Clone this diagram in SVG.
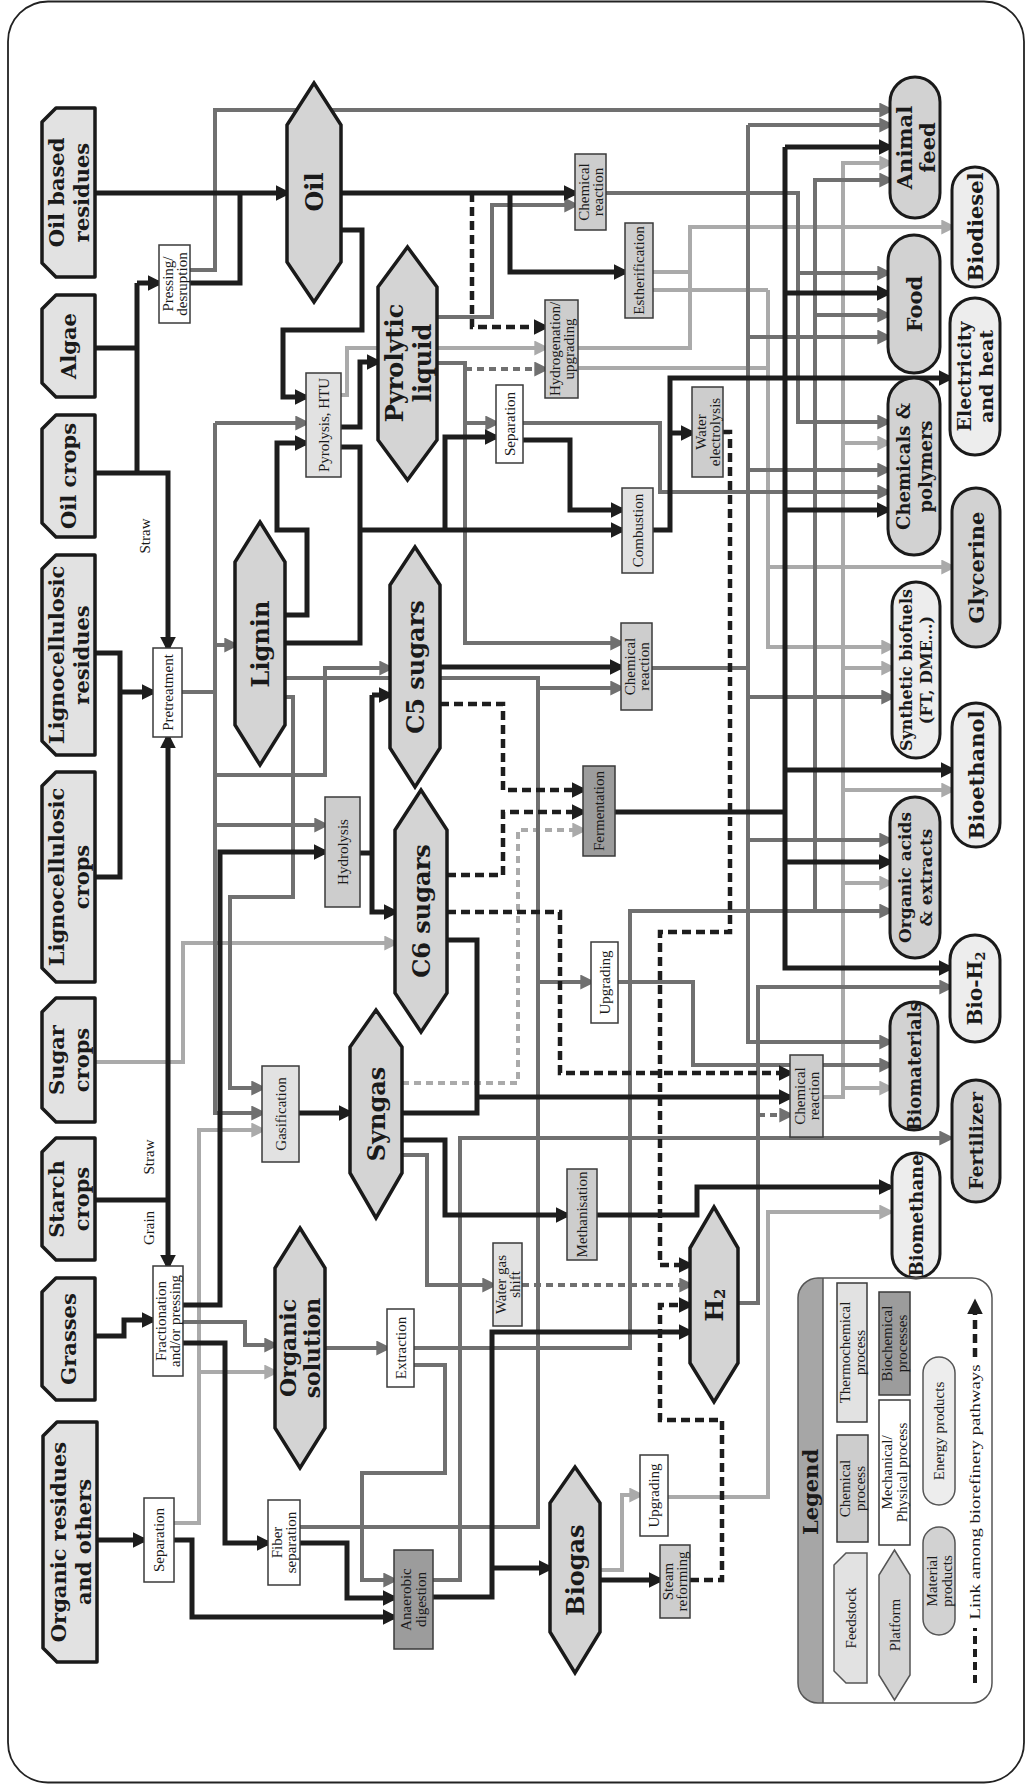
<svg xmlns="http://www.w3.org/2000/svg" width="1027" height="1789" viewBox="0 0 1027 1789">
<defs>
<style>
.k{fill:none;stroke:#1d1d1d;stroke-width:5}
.d{fill:none;stroke:#707070;stroke-width:4}
.l{fill:none;stroke:#aaaaaa;stroke-width:4}
.kd{fill:none;stroke:#1d1d1d;stroke-width:4.5;stroke-dasharray:9 5}
.dd{fill:none;stroke:#707070;stroke-width:4;stroke-dasharray:7 5}
.ld{fill:none;stroke:#aaaaaa;stroke-width:4;stroke-dasharray:7 5}
.ak{marker-end:url(#ak)}
.ad{marker-end:url(#ad)}
.al{marker-end:url(#al)}
.fs{fill:#e2e2e2;stroke:#1a1a1a;stroke-width:3.5;stroke-linejoin:round}
.pf{fill:#d4d4d4;stroke:#1a1a1a;stroke-width:3.5;stroke-linejoin:miter}
.pm{fill:#d2d2d2;stroke:#1a1a1a;stroke-width:3}
.pe{fill:#ededed;stroke:#1a1a1a;stroke-width:3}
.bw{fill:#ffffff;stroke:#3a3a3a;stroke-width:1.5}
.bc{fill:#cdcdcd;stroke:#3a3a3a;stroke-width:1.5}
.bt{fill:#e2e2e2;stroke:#3a3a3a;stroke-width:1.5}
.bb{fill:#9c9c9c;stroke:#3a3a3a;stroke-width:1.5}
.nl{font-family:"DejaVu Serif",serif;font-weight:bold;fill:#1a1a1a;text-anchor:middle;dominant-baseline:central}
.tl{font-family:"Liberation Serif","Times New Roman",serif;fill:#1a1a1a;text-anchor:middle;dominant-baseline:central;font-size:15px}
</style>
<marker id="ak" viewBox="0 0 14 14" markerWidth="16" markerHeight="16" refX="10" refY="7" orient="auto" markerUnits="userSpaceOnUse"><path d="M0,0 L14,7 L0,14 z" fill="#1d1d1d"/></marker>
<marker id="ad" viewBox="0 0 14 14" markerWidth="15" markerHeight="15" refX="10" refY="7" orient="auto" markerUnits="userSpaceOnUse"><path d="M0,0 L14,7 L0,14 z" fill="#707070"/></marker>
<marker id="al" viewBox="0 0 14 14" markerWidth="15" markerHeight="15" refX="10" refY="7" orient="auto" markerUnits="userSpaceOnUse"><path d="M0,0 L14,7 L0,14 z" fill="#aaaaaa"/></marker>
</defs>
<rect x="0" y="0" width="1027" height="1789" fill="#ffffff"/>
<rect x="8" y="1.5" width="1016" height="1781" rx="40" fill="none" stroke="#222" stroke-width="1.8"/>

<g id="connectors">
<polyline class="l al" points="341,395 347,395 347,348 545,348"/>
<polyline class="l" points="578,348 690,348"/>
<polyline class="l" points="653,272 690,272"/>
<polyline class="l al" points="690,350 690,227 952,227"/>
<polyline class="l" points="653,290 768,290"/>
<polyline class="l" points="578,368 768,368"/>
<polyline class="l al" points="768,290 768,647 892,647"/>
<polyline class="l al" points="768,567 952,567"/>
<polyline class="l al" points="823,1097 843,1097 843,163 890,163"/>
<polyline class="l al" points="843,443 888,443"/>
<polyline class="l al" points="843,668 892,668"/>
<polyline class="l al" points="843,790 952,790"/>
<polyline class="l al" points="843,883 890,883"/>
<polyline class="l al" points="843,1088 890,1088"/>
<polyline class="l al" points="95,1062 183,1062 183,943 395,943"/>
<polyline class="l al" points="174,1523 199,1523 199,1130 262,1130"/>
<polyline class="l al" points="199,1372 275,1372"/>
<polyline class="l al" points="600,1570 622,1570 622,1495 640,1495"/>
<polyline class="l al" points="668,1497 768,1497 768,1212 890,1212"/>
<polyline class="ld al" points="402,1083 518,1083 518,830 583,830"/>

<polyline class="d ad" points="190,270 215,270 215,110 890,110"/>
<polyline class="d ad" points="437,317 492,317 492,205 575,205"/>
<polyline class="d ad" points="437,363 465,363 465,643 621,643"/>
<polyline class="d ad" points="465,423 496,423"/>
<polyline class="dd ad" points="465,369 545,369"/>
<polyline class="d ad" points="523,423 660,423 660,492 888,492"/>
<polyline class="d ad" points="606,193 798,193 798,422 888,422"/>
<polyline class="d ad" points="798,273 888,273"/>
<polyline class="d" points="652,668 748,668"/>
<polyline class="d ad" points="748,125 748,1042 890,1042"/>
<polyline class="d ad" points="748,125 890,125"/>
<polyline class="d ad" points="748,337 888,337"/>
<polyline class="d ad" points="748,470 888,470"/>
<polyline class="d ad" points="748,697 892,697"/>
<polyline class="d ad" points="748,840 890,840"/>
<polyline class="d ad" points="414,1348 630,1348 630,911 890,911"/>
<polyline class="d ad" points="815,911 815,180 890,180"/>
<polyline class="d ad" points="815,315 888,315"/>
<polyline class="d" points="182,692 215,692"/>
<polyline class="d ad" points="215,423 215,1113 262,1113"/>
<polyline class="d ad" points="215,423 306,423"/>
<polyline class="d ad" points="215,645 235,645"/>
<polyline class="d ad" points="215,825 325,825"/>
<polyline class="d ad" points="215,775 325,775 325,668 390,668"/>
<polyline class="d" points="285,678 538,678 538,1527 300,1527"/>
<polyline class="d ad" points="538,688 621,688"/>
<polyline class="d ad" points="538,982 591,982"/>
<polyline class="d ad" points="285,697 293,697 293,897 230,897 230,1088 262,1088"/>
<polyline class="d ad" points="618,982 693,982 693,1065 890,1065"/>
<polyline class="d ad" points="738,1303 758,1303 758,987 950,987"/>
<polyline class="dd ad" points="758,1115 790,1115"/>
<polyline class="d ad" points="433,1580 460,1580 460,1138 950,1138"/>
<polyline class="d ad" points="402,1155 427,1155 427,1285 493,1285"/>
<polyline class="dd ad" points="522,1285 690,1285"/>
<polyline class="d ad" points="183,1322 245,1322 245,1345 275,1345"/>
<polyline class="d ad" points="325,1348 387,1348"/>
<polyline class="d ad" points="414,1365 445,1365 445,1473 362,1473 362,1580 394,1580"/>

<polyline class="k ak" points="95,193 287,193"/>
<polyline class="k" points="95,348 137,348"/>
<polyline class="k" points="137,283 137,473"/>
<polyline class="k ak" points="137,283 159,283"/>
<polyline class="k ak" points="95,473 168,473 168,648"/>
<polyline class="k" points="190,283 240,283 240,193"/>
<polyline class="k ak" points="341,193 575,193"/>
<polyline class="k ak" points="341,230 362,230 362,330 283,330 283,397 306,397"/>
<polyline class="k ak" points="510,193 510,272 625,272"/>
<polyline class="kd ak" points="472,193 472,327 545,327"/>
<polyline class="k ak" points="285,615 307,615 307,530 277,530 277,443 306,443"/>
<polyline class="k ak" points="341,427 360,427 360,362 378,362"/>
<polyline class="k" points="341,447 360,447 360,643 285,643"/>
<polyline class="k ak" points="360,530 622,530"/>
<polyline class="k ak" points="445,530 445,437 496,437"/>
<polyline class="k ak" points="523,440 570,440 570,510 622,510"/>
<polyline class="k ak" points="653,530 670,530 670,378 950,378"/>
<polyline class="k ak" points="670,433 692,433"/>
<polyline class="kd ak" points="723,432 730,432 730,932 660,932 660,1265 690,1265"/>
<polyline class="kd ak" points="690,1580 722,1580 722,1420 660,1420 660,1305 690,1305"/>
<polyline class="k ak" points="440,667 621,667"/>
<polyline class="kd ak" points="440,704 503,704 503,790 583,790"/>
<polyline class="kd ak" points="447,875 503,875 503,812 583,812"/>
<polyline class="kd ak" points="447,912 560,912 560,1073 790,1073"/>
<polyline class="k" points="360,853 372,853"/>
<polyline class="k ak" points="372,695 390,695"/>
<polyline class="k ak" points="372,695 372,912 395,912"/>
<polyline class="k" points="615,812 785,812"/>
<polyline class="k ak" points="785,147 785,968 950,968"/>
<polyline class="k ak" points="785,147 890,147"/>
<polyline class="k ak" points="785,293 888,293"/>
<polyline class="k ak" points="785,510 888,510"/>
<polyline class="k ak" points="785,770 952,770"/>
<polyline class="k ak" points="785,862 890,862"/>
<polyline class="k" points="447,940 477,940 477,1113 402,1113"/>
<polyline class="k ak" points="477,1097 790,1097"/>
<polyline class="k ak" points="299,1113 350,1113"/>
<polyline class="k ak" points="402,1140 445,1140 445,1215 567,1215"/>
<polyline class="k ak" points="597,1215 697,1215 697,1187 890,1187"/>
<polyline class="k ak" points="433,1597 492,1597 492,1332 690,1332"/>
<polyline class="k ak" points="492,1568 550,1568"/>
<polyline class="k ak" points="600,1580 660,1580"/>
<polyline class="k" points="95,1200 168,1200"/>
<polyline class="k ak" points="168,1200 168,737"/>
<polyline class="k ak" points="168,1200 168,1266"/>
<polyline class="k" points="95,653 120,653 120,877 95,877"/>
<polyline class="k ak" points="120,692 153,692"/>
<polyline class="k ak" points="95,1336 124,1336 124,1320 153,1320"/>
<polyline class="k ak" points="183,1305 220,1305 220,852 325,852"/>
<polyline class="k ak" points="183,1343 225,1343 225,1543 268,1543"/>
<polyline class="k ak" points="97,1540 144,1540"/>
<polyline class="k ak" points="174,1540 192,1540 192,1617 394,1617"/>
<polyline class="k ak" points="300,1543 347,1543 347,1598 394,1598"/>
</g>

<g id="labels">
<text class="tl" transform="translate(145,536) rotate(-90)">Straw</text>
<text class="tl" transform="translate(149,1157) rotate(-90)">Straw</text>
<text class="tl" transform="translate(149,1228) rotate(-90)">Grain</text>
</g>

<g id="oil-based-residues"><polygon class="fs" points="42,122 56,108 95,108 95,277 56,277 42,263"/><text class="nl" font-size="21" transform="translate(68.5,192.5) rotate(-90)"><tspan x="0" y="-12.5">Oil based</tspan><tspan x="0" y="12.5">residues</tspan></text></g>
<g id="algae"><polygon class="fs" points="42,309 56,295 95,295 95,397 56,397 42,383"/><text class="nl" font-size="21" transform="translate(68.5,346) rotate(-90)">Algae</text></g>
<g id="oil-crops"><polygon class="fs" points="42,429 56,415 95,415 95,537 56,537 42,523"/><text class="nl" font-size="21" transform="translate(68.5,476) rotate(-90)">Oil crops</text></g>
<g id="ligno-residues"><polygon class="fs" points="42,569 56,555 95,555 95,755 56,755 42,741"/><text class="nl" font-size="21" transform="translate(68.5,655) rotate(-90)"><tspan x="0" y="-12.5">Lignocellulosic</tspan><tspan x="0" y="12.5">residues</tspan></text></g>
<g id="ligno-crops"><polygon class="fs" points="42,786 56,772 95,772 95,982 56,982 42,968"/><text class="nl" font-size="21" transform="translate(68.5,877) rotate(-90)"><tspan x="0" y="-12.5">Lignocellulosic</tspan><tspan x="0" y="12.5">crops</tspan></text></g>
<g id="sugar-crops"><polygon class="fs" points="42,1012 56,998 95,998 95,1122 56,1122 42,1108"/><text class="nl" font-size="21" transform="translate(68.5,1060) rotate(-90)"><tspan x="0" y="-12.5">Sugar</tspan><tspan x="0" y="12.5">crops</tspan></text></g>
<g id="starch-crops"><polygon class="fs" points="42,1152 56,1138 95,1138 95,1260 56,1260 42,1246"/><text class="nl" font-size="21" transform="translate(68.5,1199) rotate(-90)"><tspan x="0" y="-12.5">Starch</tspan><tspan x="0" y="12.5">crops</tspan></text></g>
<g id="grasses"><polygon class="fs" points="42,1292 56,1278 95,1278 95,1400 56,1400 42,1386"/><text class="nl" font-size="21" transform="translate(68.5,1339) rotate(-90)">Grasses</text></g>
<g id="organic-residues"><polygon class="fs" points="43,1436 57,1422 97,1422 97,1662 57,1662 43,1648"/><text class="nl" font-size="21" transform="translate(70,1542) rotate(-90)"><tspan x="0" y="-12.5">Organic residues</tspan><tspan x="0" y="12.5">and others</tspan></text></g>

<g id="oil"><polygon class="pf" points="314,83 341,125 341,262 314,302 287,262 287,125"/><text class="nl" font-size="24" transform="translate(314,192) rotate(-90)">Oil</text></g>
<g id="pyrolytic-liquid"><polygon class="pf" points="407.5,247 437,287 437,440 407.5,480 378,440 378,287"/><text class="nl" font-size="24" transform="translate(407.5,363) rotate(-90)"><tspan x="0" y="-14">Pyrolytic</tspan><tspan x="0" y="14">liquid</tspan></text></g>
<g id="lignin"><polygon class="pf" points="260,522 285,562 285,725 260,765 235,725 235,562"/><text class="nl" font-size="24" transform="translate(260,644) rotate(-90)">Lignin</text></g>
<g id="c5-sugars"><polygon class="pf" points="415,547 440,585 440,748 415,787 390,748 390,585"/><text class="nl" font-size="24" transform="translate(415,667) rotate(-90)">C5 sugars</text></g>
<g id="c6-sugars"><polygon class="pf" points="421,790 447,830 447,993 421,1032 395,993 395,830"/><text class="nl" font-size="24" transform="translate(421,911) rotate(-90)">C6 sugars</text></g>
<g id="syngas"><polygon class="pf" points="376,1010 402,1047 402,1173 376,1218 350,1173 350,1047"/><text class="nl" font-size="24" transform="translate(376,1114) rotate(-90)">Syngas</text></g>
<g id="organic-solution"><polygon class="pf" points="300,1228 325,1268 325,1428 300,1468 275,1428 275,1268"/><text class="nl" font-size="22" transform="translate(300,1348) rotate(-90)"><tspan x="0" y="-12">Organic</tspan><tspan x="0" y="12">solution</tspan></text></g>
<g id="h2"><polygon class="pf" points="714,1207 738,1248 738,1363 714,1402 690,1363 690,1248"/><text class="nl" font-size="24" transform="translate(714,1305) rotate(-90)">H<tspan font-size="15" dy="6">2</tspan></text></g>
<g id="biogas"><polygon class="pf" points="575,1467 600,1503 600,1632 575,1673 550,1632 550,1503"/><text class="nl" font-size="24" transform="translate(575,1570) rotate(-90)">Biogas</text></g>

<g id="pressing"><rect class="bw" x="159" y="245" width="31" height="78"/><text class="tl" font-size="14" transform="translate(174.5,284) rotate(-90)"><tspan x="0" y="-7">Pressing/</tspan><tspan x="0" y="7">desruption</tspan></text></g>
<g id="pretreatment"><rect class="bw" x="153" y="648" width="29" height="89"/><text class="tl" transform="translate(167.5,692.5) rotate(-90)">Pretreatment</text></g>
<g id="pyrolysis"><rect class="bt" x="306" y="373" width="35" height="104"/><text class="tl" transform="translate(323.5,425) rotate(-90)">Pyrolysis, HTU</text></g>
<g id="chem-reaction-1"><rect class="bc" x="575" y="154" width="31" height="76"/><text class="tl" font-size="14.5" transform="translate(590.5,192) rotate(-90)"><tspan x="0" y="-7">Chemical</tspan><tspan x="0" y="7">reaction</tspan></text></g>
<g id="estherification"><rect class="bc" x="625" y="223" width="28" height="95"/><text class="tl" transform="translate(639,270.5) rotate(-90)">Estherification</text></g>
<g id="hydrogenation"><rect class="bc" x="545" y="300" width="33" height="98"/><text class="tl" font-size="14" transform="translate(561.5,349) rotate(-90)"><tspan x="0" y="-7">Hydrogenation/</tspan><tspan x="0" y="7">upgrading</tspan></text></g>
<g id="separation-1"><rect class="bw" x="496" y="385" width="27" height="78"/><text class="tl" transform="translate(509.5,424) rotate(-90)">Separation</text></g>
<g id="water-electrolysis"><rect class="bc" x="692" y="387" width="31" height="90"/><text class="tl" font-size="14" transform="translate(707.5,432) rotate(-90)"><tspan x="0" y="-7">Water</tspan><tspan x="0" y="7">electrolysis</tspan></text></g>
<g id="combustion"><rect class="bt" x="622" y="488" width="31" height="85"/><text class="tl" transform="translate(637.5,530.5) rotate(-90)">Combustion</text></g>
<g id="chem-reaction-2"><rect class="bc" x="621" y="623" width="31" height="87"/><text class="tl" font-size="14.5" transform="translate(636.5,666.5) rotate(-90)"><tspan x="0" y="-7">Chemical</tspan><tspan x="0" y="7">reaction</tspan></text></g>
<g id="fermentation"><rect class="bb" x="583" y="766" width="32" height="90"/><text class="tl" transform="translate(599,811) rotate(-90)">Fermentation</text></g>
<g id="hydrolysis"><rect class="bc" x="325" y="797" width="35" height="110"/><text class="tl" transform="translate(342.5,852) rotate(-90)">Hydrolysis</text></g>
<g id="upgrading-1"><rect class="bw" x="591" y="942" width="27" height="81"/><text class="tl" transform="translate(604.5,982.5) rotate(-90)">Upgrading</text></g>
<g id="chem-reaction-3"><rect class="bc" x="790" y="1055" width="33" height="82"/><text class="tl" font-size="14.5" transform="translate(806.5,1096) rotate(-90)"><tspan x="0" y="-7">Chemical</tspan><tspan x="0" y="7">reaction</tspan></text></g>
<g id="gasification"><rect class="bt" x="262" y="1066" width="37" height="96"/><text class="tl" transform="translate(280.5,1114) rotate(-90)">Gasification</text></g>
<g id="methanisation"><rect class="bc" x="567" y="1169" width="30" height="91"/><text class="tl" transform="translate(582,1214.5) rotate(-90)">Methanisation</text></g>
<g id="water-gas-shift"><rect class="bt" x="493" y="1243" width="29" height="83"/><text class="tl" font-size="14" transform="translate(507.5,1284.5) rotate(-90)"><tspan x="0" y="-7">Water gas</tspan><tspan x="0" y="7">shift</tspan></text></g>
<g id="fractionation"><rect class="bw" x="153" y="1266" width="30" height="110"/><text class="tl" font-size="14" transform="translate(168,1321) rotate(-90)"><tspan x="0" y="-7">Fractionation</tspan><tspan x="0" y="7">and/or pressing</tspan></text></g>
<g id="extraction"><rect class="bw" x="387" y="1309" width="27" height="78"/><text class="tl" transform="translate(400.5,1348) rotate(-90)">Extraction</text></g>
<g id="separation-2"><rect class="bw" x="144" y="1498" width="30" height="84"/><text class="tl" transform="translate(159,1540) rotate(-90)">Separation</text></g>
<g id="fiber-separation"><rect class="bw" x="268" y="1500" width="32" height="85"/><text class="tl" font-size="14.5" transform="translate(284,1542.5) rotate(-90)"><tspan x="0" y="-7">Fiber</tspan><tspan x="0" y="7">separation</tspan></text></g>
<g id="anaerobic-digestion"><rect class="bb" x="394" y="1550" width="39" height="99"/><text class="tl" font-size="15.5" transform="translate(413.5,1599.5) rotate(-90)"><tspan x="0" y="-7.5">Anaerobic</tspan><tspan x="0" y="7.5">digestion</tspan></text></g>
<g id="upgrading-2"><rect class="bw" x="640" y="1455" width="28" height="81"/><text class="tl" transform="translate(654,1495.5) rotate(-90)">Upgrading</text></g>
<g id="steam-reforming"><rect class="bc" x="660" y="1545" width="30" height="73"/><text class="tl" font-size="14" transform="translate(675,1581.5) rotate(-90)"><tspan x="0" y="-7">Steam</tspan><tspan x="0" y="7">reforming</tspan></text></g>

<g id="animal-feed"><rect class="pm" x="890" y="77" width="50" height="141" rx="25"/><text class="nl" font-size="21" transform="translate(915,147.5) rotate(-90)"><tspan x="0" y="-11.5">Animal</tspan><tspan x="0" y="11.5">feed</tspan></text></g>
<g id="biodiesel"><rect class="pe" x="952" y="167" width="46" height="120" rx="23"/><text class="nl" font-size="21" transform="translate(975,227) rotate(-90)">Biodiesel</text></g>
<g id="food"><rect class="pm" x="888" y="235" width="52" height="138" rx="26"/><text class="nl" font-size="21" transform="translate(914,304) rotate(-90)">Food</text></g>
<g id="electricity-heat"><rect class="pe" x="950" y="298" width="50" height="157" rx="25"/><text class="nl" font-size="19" transform="translate(975,376.5) rotate(-90)"><tspan x="0" y="-11">Electricity</tspan><tspan x="0" y="11">and heat</tspan></text></g>
<g id="chemicals-polymers"><rect class="pm" x="888" y="378" width="52" height="177" rx="26"/><text class="nl" font-size="18" transform="translate(914,466.5) rotate(-90)"><tspan x="0" y="-11">Chemicals &amp;</tspan><tspan x="0" y="11">polymers</tspan></text></g>
<g id="glycerine"><rect class="pm" x="952" y="488" width="48" height="159" rx="24"/><text class="nl" font-size="21" transform="translate(976,567.5) rotate(-90)">Glycerine</text></g>
<g id="synthetic-biofuels"><rect class="pe" x="892" y="582" width="48" height="176" rx="24"/><text class="nl" font-size="16" transform="translate(916,670) rotate(-90)"><tspan x="0" y="-10">Synthetic biofuels</tspan><tspan x="0" y="10">(FT, DME...)</tspan></text></g>
<g id="bioethanol"><rect class="pe" x="952" y="703" width="48" height="144" rx="24"/><text class="nl" font-size="21" transform="translate(976,775) rotate(-90)">Bioethanol</text></g>
<g id="organic-acids"><rect class="pm" x="890" y="797" width="50" height="161" rx="25"/><text class="nl" font-size="17" transform="translate(915,877.5) rotate(-90)"><tspan x="0" y="-10.5">Organic acids</tspan><tspan x="0" y="10.5">&amp; extracts</tspan></text></g>
<g id="bio-h2"><rect class="pe" x="950" y="935" width="50" height="107" rx="25"/><text class="nl" font-size="20" transform="translate(975,988.5) rotate(-90)">Bio-H<tspan font-size="13" dy="5">2</tspan></text></g>
<g id="biomaterials"><rect class="pm" x="890" y="1002" width="48" height="128" rx="24"/><text class="nl" font-size="18" transform="translate(914,1066) rotate(-90)">Biomaterials</text></g>
<g id="fertilizer"><rect class="pm" x="952" y="1080" width="48" height="122" rx="24"/><text class="nl" font-size="19" transform="translate(976,1141) rotate(-90)">Fertilizer</text></g>
<g id="biomethane"><rect class="pe" x="892" y="1153" width="48" height="125" rx="24"/><text class="nl" font-size="18" transform="translate(916,1215.5) rotate(-90)">Biomethane</text></g>

<g id="legend">
<path d="M823,1278 L818,1278 A20,20 0 0 0 798,1298 L798,1683 A20,20 0 0 0 818,1703 L823,1703 Z" fill="#a6a6a6"/>
<rect x="798" y="1278" width="194" height="425" rx="20" fill="none" stroke="#555" stroke-width="1.5"/>
<line x1="823" y1="1278" x2="823" y2="1703" stroke="#555" stroke-width="1.5"/>
<text class="nl" font-size="21" transform="translate(810.5,1492) rotate(-90)">Legend</text>
<polygon points="834,1565 846,1553 867,1553 867,1683 846,1683 834,1671" fill="#e2e2e2" stroke="#555" stroke-width="1.5"/>
<text class="tl" font-size="16" transform="translate(850.5,1618) rotate(-90)">Feedstock</text>
<rect class="bc" x="837" y="1435" width="31" height="107"/>
<text class="tl" font-size="15" transform="translate(852.5,1488.5) rotate(-90)"><tspan x="0" y="-7.5">Chemical</tspan><tspan x="0" y="7.5">process</tspan></text>
<rect class="bt" x="837" y="1283" width="30" height="139"/>
<text class="tl" font-size="15" transform="translate(852,1352.5) rotate(-90)"><tspan x="0" y="-7.5">Thermochemical</tspan><tspan x="0" y="7.5">process</tspan></text>
<polygon points="894.5,1550 910,1575 910,1675 894.5,1700 879,1675 879,1575" fill="#d4d4d4" stroke="#555" stroke-width="1.5"/>
<text class="tl" font-size="16" transform="translate(894.5,1625) rotate(-90)">Platform</text>
<rect class="bw" x="879" y="1400" width="31" height="145"/>
<text class="tl" font-size="15" transform="translate(894.5,1472.5) rotate(-90)"><tspan x="0" y="-7.5">Mechanical/</tspan><tspan x="0" y="7.5">Physical process</tspan></text>
<rect class="bb" x="879" y="1292" width="31" height="103"/>
<text class="tl" font-size="15" transform="translate(894.5,1343.5) rotate(-90)"><tspan x="0" y="-7.5">Biochemical</tspan><tspan x="0" y="7.5">processes</tspan></text>
<rect x="923" y="1527" width="32" height="108" rx="16" fill="#d2d2d2" stroke="#555" stroke-width="1.5"/>
<text class="tl" font-size="15" transform="translate(939,1581) rotate(-90)"><tspan x="0" y="-7.5">Material</tspan><tspan x="0" y="7.5">products</tspan></text>
<rect x="923" y="1357" width="32" height="148" rx="16" fill="#ededed" stroke="#555" stroke-width="1.5"/>
<text class="tl" font-size="16" transform="translate(939,1431) rotate(-90)">Energy products</text>
<line x1="975" y1="1683" x2="975" y2="1628" stroke="#1d1d1d" stroke-width="4" stroke-dasharray="8 5"/>
<polyline class="kd ak" points="975,1357 975,1303"/>
<text class="tl" font-size="17" textLength="255" lengthAdjust="spacingAndGlyphs" transform="translate(975,1492) rotate(-90)">Link among biorefinery pathways</text>
</g>
</svg>
